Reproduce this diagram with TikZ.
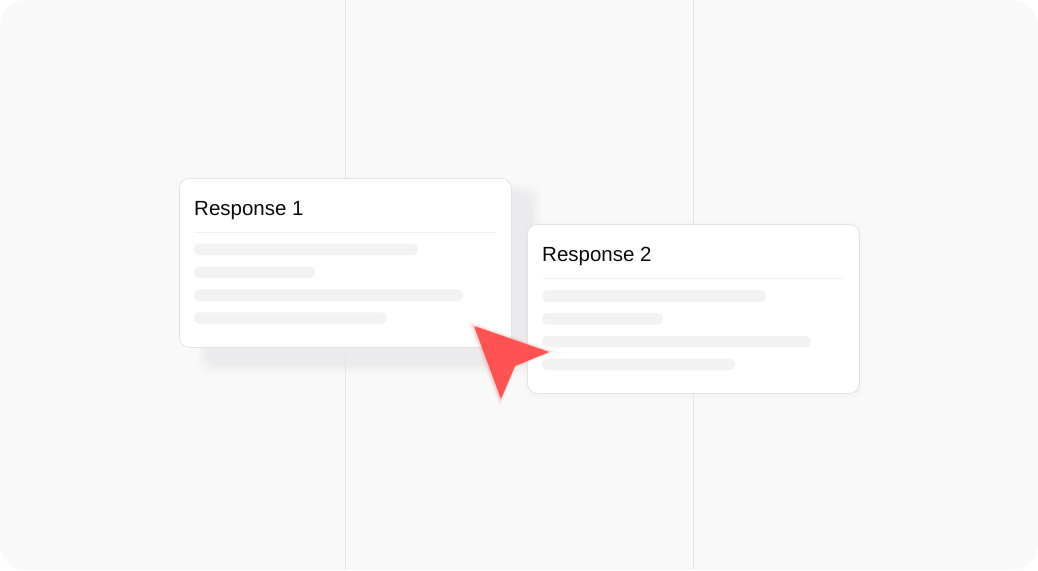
\documentclass[tikz,border=0pt]{standalone}
\usepackage{fontspec}
\setmainfont{Liberation Sans}
\begin{document}
\begin{tikzpicture}[x=1pt,y=-1pt,
  bgpanel/.style={fill=panelgray,rounded corners=26pt},
  grid/.style={draw=gridgray,line width=1pt},
  card/.style={fill=white,draw=cardborder,line width=0.8pt,rounded corners=10pt},
  sep/.style={draw=sepgray,line width=0.8pt},
  bar/.style={fill=bargray,rounded corners=5.8pt},
  title/.style={font=\fontsize{20.5}{24}\selectfont,text=titleblack,anchor=base west,inner sep=0pt},
  cursor/.style={fill=cursorred}]
\definecolor{panelgray}{HTML}{F9F9F9}
\definecolor{gridgray}{HTML}{E6E6E6}
\definecolor{cardborder}{HTML}{E3E3E5}
\definecolor{sepgray}{HTML}{F1F1F1}
\definecolor{bargray}{HTML}{F2F2F3}
\definecolor{titleblack}{HTML}{0A0A0A}
\definecolor{cursorred}{HTML}{FF5252}
\definecolor{shadowgray}{HTML}{E4E4E8}
\useasboundingbox (0,0) rectangle (1038,570);
\fill[white] (0,0) rectangle (1038,570);
\path[bgpanel] (0,0) rectangle (1038,570);
\coordinate (g1t) at (345,0); \coordinate (g1b) at (345,570);
\coordinate (g2t) at (693,0); \coordinate (g2b) at (693,570);
\draw[grid] (g1t) -- (g1b);
\draw[grid] (g2t) -- (g2b);
% shadow of card 1
\foreach \d/\o in {8/0.08,6/0.10,4/0.12,2/0.14,0/0.18,-2/0.22}{
  \fill[shadowgray,opacity=\o,rounded corners=12pt] (205-\d,191-\d) rectangle (533+\d,366+\d);
}
% card 1
\node[card,minimum width=332pt,minimum height=169pt,inner sep=0pt,anchor=north west] (c1) at (179,178) {};
\node[title] (t1) at (194,215) {Response 1};
\coordinate (s1a) at (194,232); \coordinate (s1b) at (496,232);
\draw[sep] (s1a) -- (s1b);
\fill[bar] (194,243.5) rectangle (418,255.2);
\fill[bar] (194,266.5) rectangle (315,278.2);
\fill[bar] (194,289.3) rectangle (463,301);
\fill[bar] (194,312.3) rectangle (387,324);
% card 2
\foreach \d/\o in {4/0.05,2/0.08}{
  \fill[shadowgray,opacity=\o,rounded corners=12pt] (527-\d,225-\d) rectangle (859+\d,395+\d);
}
\node[card,minimum width=332pt,minimum height=169pt,inner sep=0pt,anchor=north west] (c2) at (527,224) {};
\node[title] (t2) at (542,261.5) {Response 2};
\coordinate (s2a) at (542,278); \coordinate (s2b) at (844,278);
\draw[sep] (s2a) -- (s2b);
\fill[bar] (542,290.3) rectangle (766,302);
\fill[bar] (542,313) rectangle (663,324.7);
\fill[bar] (542,335.8) rectangle (811,347.4);
\fill[bar] (542,358.7) rectangle (735,370.3);
% cursor glow
\foreach \s/\o in {1.18/0.05,1.12/0.07,1.07/0.09,1.03/0.12}{
  \fill[cursorred,opacity=\o,shift={(511,356)},scale=\s,shift={(-511,-356)}]
    (474,326) -- (549,352) -- (515,366) -- (501,399) -- cycle;
}
\fill[cursor,rounded corners=1pt] (474,326) -- (549,352) -- (515,366) -- (501,399) -- cycle;
\end{tikzpicture}
\end{document}
